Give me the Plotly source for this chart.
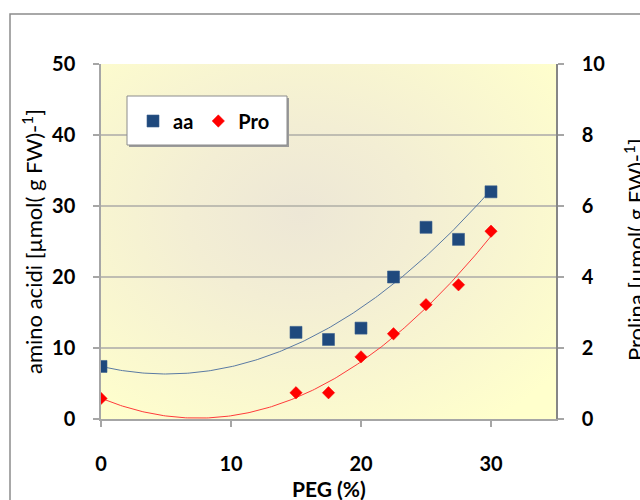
import base64
import numpy as np
import plotly.graph_objects as go

# PEG concentration (%)
peg = [0, 15, 17.5, 20, 22.5, 25, 27.5, 30]
# total free amino acids, µmol (g FW)^-1
aa = [7.4, 12.2, 11.2, 12.8, 20.0, 27.0, 25.3, 32.0]
# proline, µmol (g FW)^-1
pro = [0.58, 0.74, 0.74, 1.75, 2.40, 3.22, 3.78, 5.29]

x_ticks = [0, 10, 20, 30]
y1_ticks = [0, 10, 20, 30, 40, 50]
y2_ticks = [0, 2, 4, 6, 8, 10]

# second-order polynomial trendlines over the measured PEG range
xs = np.linspace(min(peg), max(peg), 200)
aa_fit = np.polyval(np.polyfit(peg, aa, 2), xs)
pro_fit = np.polyval(np.polyfit(peg, pro, 2), xs)

W, H = 640, 500
L, R, T, B = 101, 84, 64, 81
PW, PH = W - L - R, H - T - B


def px(xp):
    return (xp - L) / PW


def py(yp):
    return (T + PH - yp) / PH


FONT = "Lato"
BLUE = "#1F497D"
RED = "#FF0000"

fig = go.Figure()
fig.add_trace(go.Scatter(x=xs, y=aa_fit, mode="lines", line=dict(color="#5A7AA3", width=1),
                         showlegend=False, hoverinfo="skip"))
fig.add_trace(go.Scatter(x=xs, y=pro_fit, mode="lines", line=dict(color="#FF3B3B", width=1),
                         showlegend=False, hoverinfo="skip", yaxis="y2"))
fig.add_trace(go.Scatter(x=peg, y=aa, mode="markers", name="aa",
                         marker=dict(symbol="square", size=12, color=BLUE,
                                     line=dict(color="#3A5F8F", width=0.6))))
fig.add_trace(go.Scatter(x=peg, y=pro, mode="markers", name="Pro", yaxis="y2",
                         marker=dict(symbol="diamond", size=9.5, color=RED,
                                     line=dict(color=RED, width=0.5))))

# radial fill of the plotting area
svg = ("<svg xmlns='http://www.w3.org/2000/svg' width='455' height='355' "
       "viewBox='0 0 455 355' preserveAspectRatio='none'><defs>"
       "<radialGradient id='g' cx='0.44' cy='0.42' r='0.72'>"
       "<stop offset='0' stop-color='#EDE7D6'/>"
       "<stop offset='0.35' stop-color='#F3EED4'/>"
       "<stop offset='1' stop-color='#FFFFCC'/>"
       "</radialGradient></defs>"
       "<rect x='0' y='0' width='455' height='355' fill='url(#g)'/></svg>")
bg = "data:image/svg+xml;base64," + base64.b64encode(svg.encode()).decode()

tickfont = dict(family=FONT, size=20, color="#000000", weight="bold")

fig.update_layout(
    width=W, height=H,
    margin=dict(l=L, r=R, t=T, b=B),
    paper_bgcolor="white",
    plot_bgcolor="rgba(0,0,0,0)",
    images=[dict(source=bg, xref="paper", yref="paper", x=0, y=1, sizex=1, sizey=1,
                 sizing="stretch", xanchor="left", yanchor="top", layer="below")],
    xaxis=dict(range=[0, 35], tickvals=x_ticks, showgrid=False, zeroline=False,
               showline=True, linecolor="#A6A6A6", linewidth=1.5,
               ticks="outside", ticklen=6, tickcolor="#A6A6A6", tickwidth=1.5,
               tickfont=tickfont, ticklabelstandoff=20),
    yaxis=dict(range=[0, 50], tickvals=y1_ticks, showgrid=True, gridcolor="#BFBDB2",
               gridwidth=1.5, zeroline=False, showline=True, linecolor="#A6A6A6",
               linewidth=1.5, ticks="outside", ticklen=6, tickcolor="#A6A6A6",
               tickwidth=1.5, tickfont=tickfont, ticklabelstandoff=14),
    yaxis2=dict(range=[0, 10], tickvals=y2_ticks, overlaying="y", side="right",
                showgrid=False, zeroline=False, showline=True, linecolor="#868686",
                linewidth=1.5, ticks="outside", ticklen=6, tickcolor="#A6A6A6",
                tickwidth=1.5, tickfont=tickfont, ticklabelstandoff=14),
    legend=dict(orientation="h", x=px(133), y=py(121), xanchor="left", yanchor="middle",
                bgcolor="rgba(0,0,0,0)", borderwidth=0,
                font=dict(family=FONT, size=20, color="#000000", weight="bold")),
    showlegend=True,
)

# outer chart frame
fig.add_shape(type="rect", xref="paper", yref="paper",
              x0=px(10), x1=px(700), y0=py(560), y1=py(14),
              line=dict(color="#8C8C8C", width=1.5), fillcolor="rgba(0,0,0,0)")
# legend box with drop shadow
fig.add_shape(type="rect", xref="paper", yref="paper",
              x0=px(129), x1=px(289), y0=py(147), y1=py(98),
              line=dict(width=0), fillcolor="#9A9A9A")
fig.add_shape(type="rect", xref="paper", yref="paper",
              x0=px(127), x1=px(287), y0=py(145), y1=py(96),
              line=dict(color="#8C8C8C", width=1), fillcolor="white")

titlefont = dict(family=FONT, size=22, color="#000000")
fig.add_annotation(text="amino acidi [µmol( g FW)-<sup>1</sup>]", xref="paper", yref="paper",
                   x=px(32), y=py(242), textangle=-90, showarrow=False, font=titlefont,
                   xanchor="center", yanchor="middle")
fig.add_annotation(text="Prolina [µmol( g FW)-<sup>1</sup>]", xref="paper", yref="paper",
                   x=px(634), y=py(250), textangle=-90, showarrow=False, font=titlefont,
                   xanchor="center", yanchor="middle")
fig.add_annotation(text="PEG (%)", xref="paper", yref="paper",
                   x=px(329), y=py(488), showarrow=False,
                   font=dict(family=FONT, size=21, color="#000000", weight="bold"),
                   xanchor="center", yanchor="middle")

fig.write_html("out.html")
